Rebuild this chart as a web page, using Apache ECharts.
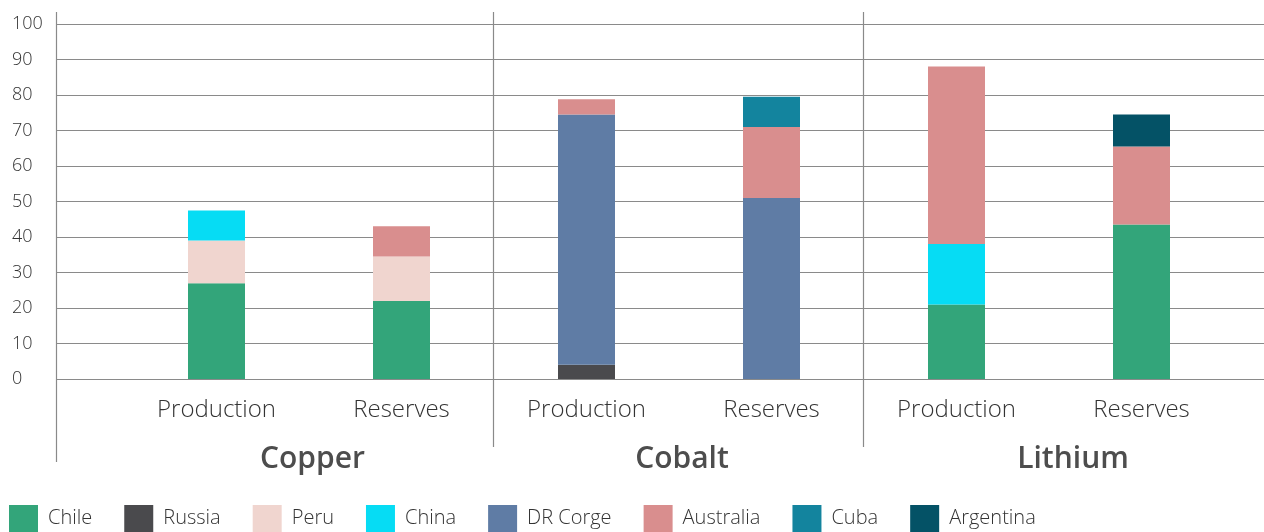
<!DOCTYPE html>
<html>
<head>
<meta charset="utf-8">
<script src="https://cdn.jsdelivr.net/npm/echarts@6/dist/echarts.min.js"></script>
<style>
html,body{margin:0;padding:0;background:#fff;}
#chart{width:1264px;height:532px;}
</style>
</head>
<body>
<div id="chart"></div>
<script>
// ---- data ----
const groups = ['Copper', 'Cobalt', 'Lithium'];
const categories = ['Production', 'Reserves', 'Production', 'Reserves', 'Production', 'Reserves'];
const yTicks = [0, 10, 20, 30, 40, 50, 60, 70, 80, 90, 100];
const countries = ['Chile', 'Russia', 'Peru', 'China', 'DR Corge', 'Australia', 'Cuba', 'Argentina'];
// order: Copper P, Copper R, Cobalt P, Cobalt R, Lithium P, Lithium R
const chile     = [27, 22, null, null, 21, 43.5];
const russia    = [null, null, 4, null, null, null];
const peru      = [12, 12.5, null, null, null, null];
const china     = [8.5, null, null, null, 17, null];
const drCongo   = [null, null, 70.5, 51, null, null];
const australia = [null, 8.5, 4.3, 20, 50, 22];
const cuba      = [null, null, null, 8.5, null, null];
const argentina = [null, null, null, null, null, 9];
const seriesValues = [chile, russia, peru, china, drCongo, australia, cuba, argentina];

// ---- styles ----
const colors = ['#33A57A', '#4A4A4D', '#F0D5CF', '#06DCF4', '#5F7CA5', '#D98E8E', '#13849E', '#045266'];
const groupLabelShift = [7, 6, 48];
const FONT = 'Open Sans';
const gridColor = '#8a8a8a';

const chart = echarts.init(document.getElementById('chart'));
const rich = {};
groups.forEach((g, i) => {
  rich['g' + i] = { fontFamily: FONT, fontSize: 30, fontWeight: 600, color: '#4d4d4d', padding: [0, 0, 0, groupLabelShift[i]] };
});

chart.setOption({
  animation: false,
  color: colors,
  textStyle: { fontFamily: FONT },
  grid: [
    { left: 56, right: 0, top: 24, bottom: 153 },
    { left: 124, right: 30, top: 24, bottom: 153 }
  ],
  legend: {
    left: 9, top: 505, padding: 0,
    itemWidth: 29, itemHeight: 27, itemGap: 32,
    icon: 'rect',
    data: countries,
    textStyle: { fontFamily: FONT, fontSize: 20, fontWeight: 300, color: '#333', padding: [4, 0, 0, 5] }
  },
  xAxis: [
    { gridIndex: 0, type: 'category', data: [''], show: false },
    {
      gridIndex: 1, type: 'category', data: categories,
      axisLine: { show: false }, axisTick: { show: false },
      axisLabel: { fontFamily: FONT, fontSize: 24, fontWeight: 300, color: '#333', margin: 19, interval: 0 }
    },
    {
      gridIndex: 1, type: 'category', data: groups, position: 'bottom', offset: 57,
      axisLine: { show: false }, axisTick: { show: false },
      axisLabel: {
        margin: 8, interval: 0,
        formatter: (v, i) => '{g' + i + '|' + v + '}',
        rich: rich
      }
    }
  ],
  yAxis: [
    {
      gridIndex: 0, type: 'value', min: yTicks[0], max: yTicks[yTicks.length - 1], interval: yTicks[1] - yTicks[0],
      axisLine: { show: false }, axisTick: { show: false },
      axisLabel: { fontFamily: FONT, fontSize: 18, fontWeight: 300, color: '#333', align: 'left', margin: 44 },
      splitLine: { lineStyle: { color: gridColor, width: 1 } }
    },
    {
      gridIndex: 1, type: 'value', min: yTicks[0], max: yTicks[yTicks.length - 1], interval: yTicks[1] - yTicks[0],
      show: false, splitLine: { show: false }
    }
  ],
  series: countries.map((name, i) => ({
    name: name, type: 'bar', stack: 'total',
    xAxisIndex: 1, yAxisIndex: 1,
    barWidth: 57,
    data: seriesValues[i]
  }))
});

// vertical axis line and group separators, positioned from the axes
const y0 = chart.convertToPixel({ yAxisIndex: 0 }, 0);
const y100 = chart.convertToPixel({ yAxisIndex: 0 }, 100);
const lineTop = y100 - 12;
const cx = i => chart.convertToPixel({ xAxisIndex: 1 }, i);
const seps = [(cx(1) + cx(2)) / 2, (cx(3) + cx(4)) / 2];
const graphics = [{
  type: 'line', shape: { x1: 56.5, y1: lineTop, x2: 56.5, y2: y0 + 83 },
  style: { stroke: gridColor, lineWidth: 1.2 }, z: 10
}];
seps.forEach(x => graphics.push({
  type: 'line', shape: { x1: Math.round(x) - 0.5, y1: lineTop, x2: Math.round(x) - 0.5, y2: y0 + 68 },
  style: { stroke: gridColor, lineWidth: 1.2 }, z: 10
}));
chart.setOption({ graphic: graphics });
</script>
</body>
</html>
